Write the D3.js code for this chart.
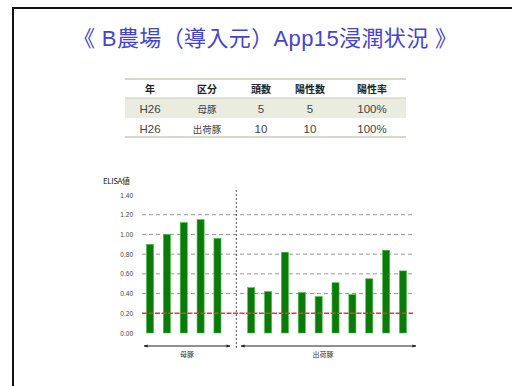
<!DOCTYPE html>
<html><head><meta charset="utf-8">
<script src="https://cdn.jsdelivr.net/npm/d3@7"></script>
<style>body{margin:0;background:#fff}svg{display:block}</style>
</head><body>
<svg id="c" width="512" height="386"></svg>
<script>
const title = "《 B農場（導入元）App15浸潤状況 》";
const tableHeader = ["年", "区分", "頭数", "陽性数", "陽性率"];
const tableRows = [["H26", "母豚", "5", "5", "100%"], ["H26", "出荷豚", "10", "10", "100%"]];
const sowValues = [0.90, 1.00, 1.12, 1.15, 0.96];
const shipValues = [0.46, 0.42, 0.82, 0.41, 0.37, 0.51, 0.39, 0.55, 0.84, 0.63];
const groupLabels = ["母豚", "出荷豚"];
const yTicks = [0, 0.2, 0.4, 0.6, 0.8, 1.0, 1.2, 1.4];
const gridTicks = [0.4, 0.6, 0.8, 1.0, 1.2];
const threshold = 0.20;
const yLabel = "ELISA値";

const svg = d3.select("#c");
const font = "'Noto Sans CJK JP', 'Noto Sans', sans-serif";
const latin = "'Liberation Sans', 'Noto Sans CJK JP', Arial, sans-serif";

// frame
svg.append("path").attr("d", "M13,386 V8 H512").attr("fill", "none").attr("stroke", "#111").attr("stroke-width", 2);

// title
svg.append("text").attr("x", 73).attr("y", 46).attr("text-anchor", "start")
  .attr("font-family", latin).attr("font-size", 22).attr("fill", "#4444d4")
  .attr("textLength", 384).attr("lengthAdjust", "spacing").text(title);

// table
const colX = [150, 207, 261, 310, 372];
const rowY = [79, 98, 118, 137];
const tx0 = 125, tx1 = 406;
svg.append("rect").attr("x", tx0).attr("y", rowY[1]).attr("width", tx1 - tx0).attr("height", rowY[2] - rowY[1]).attr("fill", "#eaecdf");
[rowY[0], rowY[1], rowY[3]].forEach((y, i) => {
  svg.append("line").attr("x1", tx0).attr("x2", tx1).attr("y1", y).attr("y2", y)
    .attr("stroke", "#c8cbb8").attr("stroke-width", i === 1 ? 1 : 1.5);
});
tableHeader.forEach((h, i) => {
  svg.append("text").attr("x", colX[i]).attr("y", 93).attr("text-anchor", "middle")
    .attr("font-family", font).attr("font-size", 10).attr("font-weight", "bold").attr("fill", "#222").text(h);
});
tableRows.forEach((r, ri) => {
  r.forEach((v, i) => {
    svg.append("text").attr("x", colX[i]).attr("y", 113 + ri * 20).attr("text-anchor", "middle")
      .attr("font-family", i === 1 ? font : latin).attr("font-size", i === 1 ? 9.5 : 11.5).attr("fill", "#444").text(v);
  });
});

// chart
const values = sowValues.concat([null], shipValues);
const idx = d3.range(values.length);
const x = d3.scaleBand().domain(idx).range([142, 411]).paddingInner(0.58).paddingOuter(0.264);
const y = d3.scaleLinear().domain([0, 1.4]).range([333, 195]);

svg.append("text").attr("x", 103).attr("y", 184).attr("text-anchor", "start")
  .attr("font-family", font).attr("font-size", 8).attr("fill", "#222").attr("letter-spacing", -0.4).text(yLabel);

const yAxis = d3.axisLeft(y).tickValues(yTicks).tickFormat(d3.format(".2f")).tickSize(0).tickPadding(0);
const ga = svg.append("g").attr("transform", "translate(133,0)").call(yAxis);
ga.select(".domain").remove();
ga.selectAll("text").attr("font-family", latin).attr("font-size", 6.5).attr("fill", "#444");

svg.append("g").selectAll("line").data(gridTicks).join("line")
  .attr("x1", 142).attr("x2", 412).attr("y1", d => y(d)).attr("y2", d => y(d))
  .attr("stroke", "#999").attr("stroke-width", 1).attr("stroke-dasharray", "4,3");

svg.append("g").selectAll("rect").data(idx.filter(i => values[i] !== null)).join("rect")
  .attr("x", i => x(i)).attr("width", x.bandwidth())
  .attr("y", i => y(values[i])).attr("height", i => y(0) - y(values[i]))
  .attr("fill", "#0b7a0b").attr("stroke", "#45c445").attr("stroke-width", 0.6);

svg.append("line").attr("x1", 142).attr("x2", 413).attr("y1", y(threshold)).attr("y2", y(threshold))
  .attr("stroke", "#e23a4a").attr("stroke-width", 1.5).attr("stroke-dasharray", "5,1.5");

const sepX = x(5) + x.bandwidth() / 2 + 2;
svg.append("line").attr("x1", sepX).attr("x2", sepX).attr("y1", 190).attr("y2", 349)
  .attr("stroke", "#555").attr("stroke-width", 1).attr("stroke-dasharray", "2,2");

// arrows
const defs = svg.append("defs");
defs.append("marker").attr("id", "ah").attr("viewBox", "0 0 10 10").attr("refX", 9).attr("refY", 5)
  .attr("markerWidth", 4).attr("markerHeight", 4).attr("orient", "auto-start-reverse")
  .append("path").attr("d", "M0,1 L10,5 L0,9 z").attr("fill", "#222");
const arrows = [[144, 230], [241, 416]];
arrows.forEach((a, i) => {
  svg.append("line").attr("x1", a[0]).attr("x2", a[1]).attr("y1", 346).attr("y2", 346)
    .attr("stroke", "#222").attr("stroke-width", 1)
    .attr("marker-start", "url(#ah)").attr("marker-end", "url(#ah)");
  svg.append("text").attr("x", i === 0 ? 187 : 323).attr("y", 357).attr("text-anchor", "middle")
    .attr("font-family", font).attr("font-size", 7).attr("fill", "#333").text(groupLabels[i]);
});
</script>
</body></html>
